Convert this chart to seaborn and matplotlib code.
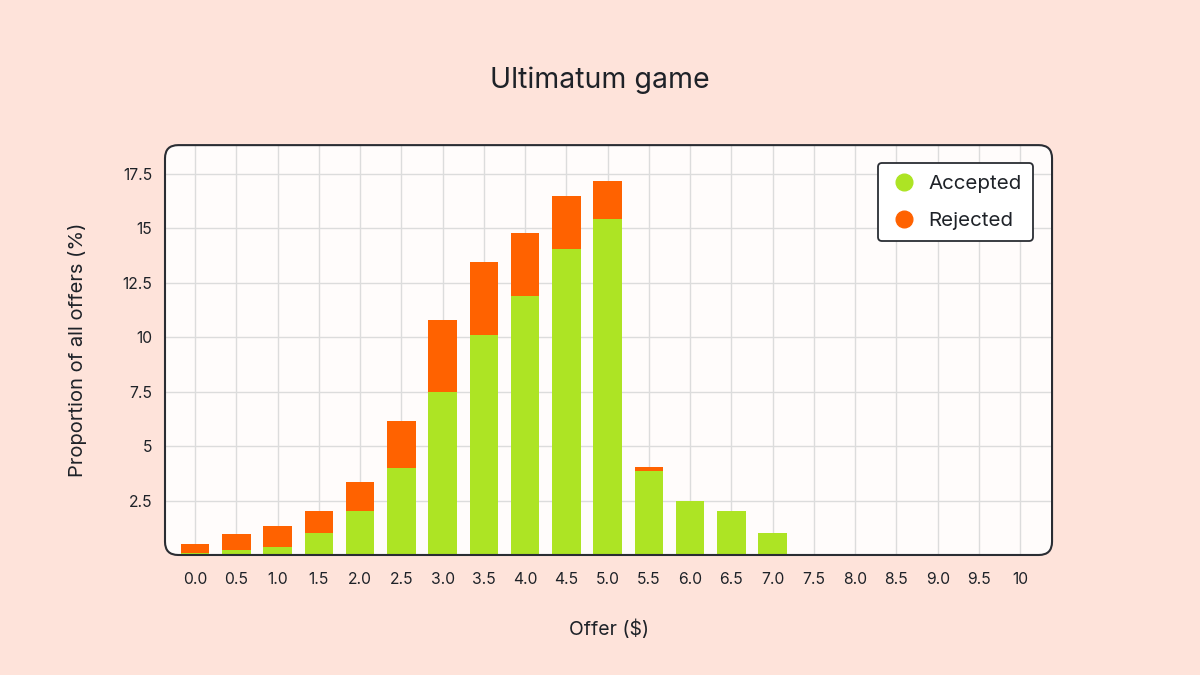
import numpy as np
import pandas as pd
import matplotlib.pyplot as plt
import seaborn as sns
from matplotlib.patches import FancyBboxPatch
from matplotlib.lines import Line2D

offers = ['0.0', '0.5', '1.0', '1.5', '2.0', '2.5', '3.0', '3.5', '4.0', '4.5',
          '5.0', '5.5', '6.0', '6.5', '7.0', '7.5', '8.0', '8.5', '9.0', '9.5', '10']
accepted = [0.1, 0.25, 0.35, 1.0, 2.0, 4.0, 7.5, 10.1, 11.9, 14.05,
            15.45, 3.85, 2.5, 2.0, 1.0, 0, 0, 0, 0, 0, 0]
rejected = [0.4, 0.7, 1.0, 1.0, 1.35, 2.15, 3.3, 3.35, 2.9, 2.45,
            1.75, 0.2, 0, 0, 0, 0, 0, 0, 0, 0, 0]
y_ticks = [2.5, 5, 7.5, 10, 12.5, 15, 17.5]
y_tick_labels = ['2.5', '5', '7.5', '10', '12.5', '15', '17.5']

green = '#ADE424'
orange = '#FF6200'
bg = '#FEE3DA'
ink = '#1E2228'

df = pd.DataFrame({'Offer': offers, 'Accepted': accepted, 'Rejected': rejected})
df['Total'] = df['Accepted'] + df['Rejected']

sns.set_theme(style='white')
plt.rcParams['font.family'] = ['Inter', 'DejaVu Sans']

fig = plt.figure(figsize=(12, 6.75), dpi=100, facecolor=bg)
ax = fig.add_axes([0.1375, 0.1778, 0.7392, 0.6072])
ax.set_facecolor('none')

# rounded plot frame
frame_kw = dict(boxstyle='round,pad=0,rounding_size=0.011',
                mutation_aspect=1200 / 675, transform=fig.transFigure)
fig.patches.append(FancyBboxPatch((0.1375, 0.1778), 0.7392, 0.6072,
                                  facecolor='#FFFCFB', edgecolor='none', zorder=-5, **frame_kw))
fig.patches.append(FancyBboxPatch((0.1375, 0.1778), 0.7392, 0.6072,
                                  facecolor='none', edgecolor='#2A2D33', lw=1.5, zorder=5, **frame_kw))

sns.barplot(data=df, x='Offer', y='Total', order=offers, color=orange,
            width=0.69, saturation=1, linewidth=0, ax=ax, zorder=3)
sns.barplot(data=df, x='Offer', y='Accepted', order=offers, color=green,
            width=0.69, saturation=1, linewidth=0, ax=ax, zorder=4)

ax.set_xlim(-0.73, 20.77)
ax.set_ylim(0, 18.83)
ax.set_yticks(y_ticks)
ax.set_yticklabels(y_tick_labels)
ax.grid(True, color='#DCDCDC', lw=1, zorder=0)
ax.set_axisbelow(True)
for s in ax.spines.values():
    s.set_visible(False)
ax.tick_params(axis='both', length=0, labelsize=11.3, colors=ink, pad=12)
ax.tick_params(axis='y', pad=9)

ax.set_xlabel('Offer ($)', fontsize=14, color=ink, labelpad=24)
ax.set_ylabel('Proportion of all offers (%)', fontsize=14.5, color=ink, labelpad=26)
fig.suptitle('Ultimatum game', fontsize=20.5, color=ink, y=0.902)

handles = [Line2D([], [], marker='o', ls='none', markersize=12, color=green),
           Line2D([], [], marker='o', ls='none', markersize=12, color=orange)]
leg = ax.legend(handles, ['Accepted', 'Rejected'], loc='upper right',
                bbox_to_anchor=(0.9786, 0.956), borderaxespad=0, fontsize=14.8,
                frameon=True, fancybox=True, handletextpad=0.5, labelspacing=0.9,
                borderpad=0.55, handlelength=1.4, labelcolor=ink)
leg.get_frame().set_edgecolor('#2A2D33')
leg.get_frame().set_linewidth(1.3)
leg.get_frame().set_facecolor('white')
leg.get_frame().set_alpha(1)
leg.set_zorder(10)

fig.savefig('out.png', dpi=100, facecolor=bg)
